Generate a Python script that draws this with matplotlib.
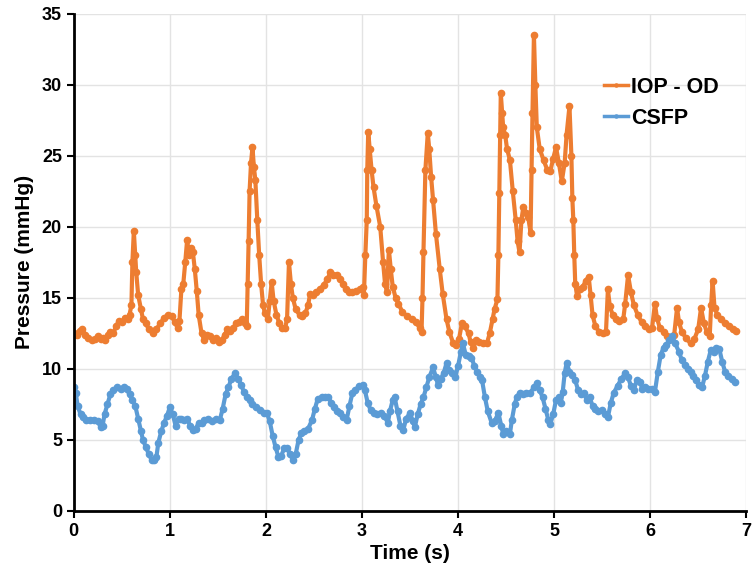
import numpy as np
import matplotlib
matplotlib.use('Agg')
from matplotlib import pyplot as plt

# IOP - OD (orange)
t_iop = [0.00, 0.03, 0.06, 0.09, 0.12, 0.15, 0.19, 0.22, 0.25, 0.28, 0.30, 0.33, 0.36, 0.38, 0.41, 0.44, 0.47, 0.50,
         0.53, 0.56, 0.58, 0.60, 0.61, 0.625, 0.64, 0.65, 0.67, 0.70, 0.72, 0.75, 0.78, 0.82, 0.86, 0.90, 0.94, 0.98,
         1.02, 1.05, 1.08, 1.10, 1.12, 1.14, 1.16, 1.18, 1.20, 1.22, 1.24, 1.26, 1.28, 1.30, 1.33, 1.36, 1.39, 1.42,
         1.45, 1.48, 1.51, 1.54, 1.57, 1.60, 1.63, 1.66, 1.69, 1.72, 1.75, 1.78, 1.80, 1.81, 1.82, 1.83, 1.845, 1.86,
         1.875, 1.89, 1.91, 1.93, 1.95, 1.97, 1.99, 2.02, 2.04, 2.06, 2.08, 2.11, 2.14, 2.17, 2.20, 2.22, 2.24, 2.26,
         2.28, 2.31, 2.35, 2.38, 2.41, 2.44, 2.46, 2.49, 2.52, 2.56, 2.60, 2.64, 2.67, 2.70, 2.74, 2.77, 2.80, 2.83,
         2.86, 2.90, 2.94, 2.98, 3.01, 3.02, 3.035, 3.05, 3.055, 3.065, 3.08, 3.10, 3.12, 3.15, 3.19, 3.22, 3.24, 3.26,
         3.28, 3.30, 3.32, 3.35, 3.38, 3.42, 3.47, 3.52, 3.56, 3.60, 3.62, 3.63, 3.64, 3.66, 3.685, 3.70, 3.72, 3.74,
         3.77, 3.81, 3.84, 3.88, 3.91, 3.95, 3.98, 4.01, 4.04, 4.07, 4.11, 4.13, 4.16, 4.19, 4.22, 4.26, 4.30, 4.33,
         4.36, 4.38, 4.41, 4.42, 4.43, 4.44, 4.445, 4.46, 4.47, 4.49, 4.51, 4.54, 4.57, 4.60, 4.62, 4.64, 4.66, 4.68,
         4.71, 4.73, 4.755, 4.765, 4.775, 4.79, 4.805, 4.82, 4.85, 4.89, 4.93, 4.96, 4.99, 5.02, 5.05, 5.08, 5.11, 5.13,
         5.16, 5.18, 5.19, 5.20, 5.21, 5.22, 5.24, 5.27, 5.30, 5.33, 5.36, 5.38, 5.40, 5.43, 5.47, 5.51, 5.54, 5.56,
         5.58, 5.61, 5.64, 5.68, 5.72, 5.74, 5.77, 5.80, 5.83, 5.87, 5.91, 5.95, 5.99, 6.02, 6.05, 6.07, 6.10, 6.14,
         6.18, 6.22, 6.25, 6.28, 6.30, 6.33, 6.37, 6.42, 6.46, 6.50, 6.53, 6.56, 6.59, 6.62, 6.635, 6.65, 6.67, 6.70,
         6.74, 6.78, 6.82, 6.86, 6.89]
iop = [12.5, 12.4, 12.7, 12.8, 12.4, 12.2, 12.0, 12.1, 12.3, 12.1, 12.2, 12.0, 12.4, 12.6, 12.5, 13.0, 13.4, 13.3,
       13.6, 13.5, 13.8, 14.5, 17.5, 19.7, 18.0, 16.8, 15.2, 14.2, 13.5, 13.2, 12.8, 12.5, 12.8, 13.2, 13.6, 13.8,
       13.7, 13.3, 12.9, 13.4, 15.6, 16.0, 17.5, 19.1, 18.0, 18.5, 18.2, 17.0, 15.5, 13.8, 12.5, 12.0, 12.4, 12.3,
       12.0, 12.2, 11.9, 12.0, 12.4, 12.8, 12.7, 12.9, 13.2, 13.3, 13.5, 13.2, 13.0, 16.0, 19.0, 22.5, 24.5, 25.6,
       24.2, 23.3, 20.5, 18.0, 16.0, 14.5, 13.9, 13.5, 14.8, 16.1, 14.8, 13.8, 13.2, 12.9, 12.9, 13.5, 17.5, 16.0,
       15.0, 14.2, 13.8, 13.7, 13.9, 14.5, 15.3, 15.2, 15.4, 15.6, 15.9, 16.3, 16.8, 16.6, 16.6, 16.3, 16.0, 15.6,
       15.4, 15.4, 15.5, 15.6, 15.8, 15.2, 18.0, 20.5, 24.0, 26.7, 25.5, 24.0, 22.8, 21.5, 20.0, 17.5, 16.0, 15.4,
       18.4, 17.0, 15.8, 15.0, 14.6, 14.0, 13.7, 13.5, 13.3, 12.9, 12.6, 15.0, 18.2, 24.0, 26.6, 25.5, 23.5, 21.9,
       19.5, 17.0, 15.3, 13.5, 12.6, 11.8, 11.7, 12.1, 13.2, 13.0, 12.5, 11.9, 11.5, 12.0, 11.9, 11.8, 11.8, 12.5,
       13.5, 14.2, 14.9, 18.0, 22.4, 26.5, 29.4, 28.0, 27.0, 26.5, 25.5, 24.7, 22.5, 20.5, 19.0, 18.2, 20.5, 21.4,
       21.0, 20.7, 19.6, 24.0, 28.0, 33.5, 30.0, 27.0, 25.5, 24.7, 24.0, 23.9, 24.8, 25.6, 24.5, 23.2, 24.5, 26.5,
       28.5, 25.0, 22.0, 20.5, 18.0, 16.0, 15.1, 15.6, 15.8, 16.2, 16.5, 15.2, 13.8, 13.0, 12.6, 12.5, 12.6, 15.6,
       14.4, 13.8, 13.5, 13.4, 13.5, 14.6, 16.6, 15.4, 14.5, 13.8, 13.3, 13.0, 12.8, 12.9, 14.6, 13.6, 12.9, 12.6,
       12.3, 12.1, 12.4, 14.3, 13.3, 12.6, 12.2, 11.8, 12.1, 12.8, 14.3, 13.2, 12.6, 12.3, 14.5, 16.2, 14.3, 13.8,
       13.5, 13.2, 13.0, 12.8, 12.7]

# CSFP (blue)
t_csf = [0.00, 0.02, 0.04, 0.07, 0.10, 0.13, 0.17, 0.21, 0.25, 0.28, 0.30, 0.32, 0.35, 0.38, 0.41, 0.45, 0.49, 0.52,
         0.55, 0.58, 0.61, 0.64, 0.67, 0.70, 0.72, 0.75, 0.78, 0.81, 0.84, 0.86, 0.88, 0.91, 0.94, 0.97, 1.00, 1.03,
         1.06, 1.09, 1.12, 1.15, 1.18, 1.21, 1.24, 1.27, 1.30, 1.33, 1.36, 1.40, 1.44, 1.48, 1.52, 1.55, 1.58, 1.61,
         1.64, 1.68, 1.71, 1.74, 1.77, 1.80, 1.83, 1.86, 1.90, 1.94, 1.98, 2.01, 2.04, 2.07, 2.10, 2.13, 2.16, 2.19,
         2.22, 2.25, 2.28, 2.31, 2.34, 2.37, 2.40, 2.44, 2.48, 2.51, 2.54, 2.58, 2.62, 2.65, 2.68, 2.71, 2.74, 2.77,
         2.80, 2.84, 2.87, 2.90, 2.93, 2.97, 3.01, 3.03, 3.06, 3.09, 3.12, 3.16, 3.20, 3.23, 3.27, 3.29, 3.32, 3.34,
         3.37, 3.40, 3.43, 3.46, 3.50, 3.53, 3.55, 3.58, 3.61, 3.64, 3.67, 3.70, 3.74, 3.77, 3.79, 3.82, 3.85, 3.88,
         3.91, 3.94, 3.97, 4.00, 4.03, 4.05, 4.08, 4.11, 4.14, 4.17, 4.20, 4.23, 4.25, 4.28, 4.31, 4.35, 4.38, 4.42,
         4.45, 4.47, 4.50, 4.54, 4.56, 4.59, 4.61, 4.64, 4.68, 4.71, 4.75, 4.79, 4.82, 4.85, 4.88, 4.91, 4.94, 4.96,
         4.99, 5.02, 5.05, 5.07, 5.09, 5.11, 5.13, 5.16, 5.19, 5.22, 5.25, 5.28, 5.31, 5.34, 5.37, 5.40, 5.43, 5.46,
         5.50, 5.53, 5.56, 5.59, 5.62, 5.66, 5.70, 5.74, 5.77, 5.80, 5.83, 5.86, 5.89, 5.92, 5.95, 5.98, 6.02, 6.05,
         6.08, 6.11, 6.14, 6.17, 6.20, 6.23, 6.26, 6.30, 6.33, 6.36, 6.39, 6.42, 6.45, 6.48, 6.51, 6.54, 6.57, 6.60,
         6.63, 6.66, 6.69, 6.72, 6.75, 6.78, 6.81, 6.85, 6.88]
csf = [8.7, 8.3, 7.4, 6.8, 6.6, 6.4, 6.4, 6.4, 6.3, 5.9, 6.0, 6.8, 7.5, 8.2, 8.5, 8.7, 8.6, 8.7,
       8.6, 8.2, 7.8, 7.4, 6.5, 5.6, 5.0, 4.5, 4.0, 3.6, 3.6, 3.8, 4.8, 5.6, 6.2, 6.7, 7.3, 6.8,
       6.0, 6.5, 6.5, 6.4, 6.5, 6.0, 5.7, 5.8, 6.2, 6.2, 6.4, 6.5, 6.3, 6.5, 6.4, 7.2, 8.2, 8.7,
       9.3, 9.7, 9.3, 8.9, 8.4, 8.0, 7.8, 7.5, 7.3, 7.1, 6.9, 6.9, 6.3, 5.3, 4.5, 3.8, 3.9, 4.4,
       4.4, 4.0, 3.6, 4.0, 5.0, 5.5, 5.6, 5.8, 6.4, 7.2, 7.9, 8.0, 8.0, 8.0, 7.6, 7.3, 7.0, 6.9,
       6.6, 6.4, 7.4, 8.3, 8.5, 8.8, 8.9, 8.5, 7.6, 7.1, 6.9, 6.8, 6.9, 6.7, 6.2, 7.0, 7.8, 8.0,
       7.0, 6.0, 5.7, 6.5, 6.9, 6.3, 5.9, 6.8, 7.5, 8.0, 8.7, 9.4, 10.1, 9.4, 8.9, 9.3, 9.7, 10.4,
       9.9, 9.7, 9.4, 10.2, 11.2, 11.8, 11.0, 10.9, 10.8, 10.2, 9.8, 9.4, 9.2, 8.0, 7.0, 6.2, 6.3, 6.9,
       6.0, 5.4, 5.6, 5.4, 6.4, 7.5, 8.0, 8.3, 8.2, 8.3, 8.3, 8.7, 9.0, 8.5, 8.0, 7.2, 6.4, 6.1,
       6.8, 7.8, 8.0, 7.6, 8.4, 9.7, 10.4, 9.8, 9.6, 9.2, 8.5, 8.2, 8.3, 7.8, 8.0, 7.4, 7.2, 7.0,
       7.1, 6.8, 6.6, 7.6, 8.3, 8.8, 9.3, 9.7, 9.4, 8.8, 8.5, 9.2, 9.1, 8.6, 8.7, 8.6, 8.6, 8.4,
       9.8, 11.0, 11.5, 11.7, 12.0, 12.3, 11.8, 11.2, 10.6, 10.3, 10.0, 9.8, 9.5, 9.2, 8.9, 8.7, 9.5, 10.5,
       11.3, 11.2, 11.5, 11.4, 10.5, 9.8, 9.5, 9.3, 9.1]

x_ticks = [0, 1, 2, 3, 4, 5, 6, 7]
y_ticks = [0, 5, 10, 15, 20, 25, 30, 35]

plt.rcParams['font.family'] = ['Liberation Sans', 'DejaVu Sans']
plt.rcParams['font.weight'] = 'bold'

fig = plt.figure(figsize=(7.53, 5.76), dpi=100)
ax = fig.add_axes([0.098, 0.113, 0.893, 0.863])

ax.plot(t_iop, iop, color='#ED7D31', lw=3, marker='o', ms=4.5, label='IOP - OD')
ax.plot(t_csf, csf, color='#5B9BD5', lw=3, marker='o', ms=4.5, label='CSFP')

ax.set_xlim(0, 7)
ax.set_ylim(0, 35)
ax.set_xticks(x_ticks)
ax.set_yticks(y_ticks)
ax.grid(True, color='#E3E3E3', lw=1)
ax.set_axisbelow(True)

for side in ['top', 'right']:
    ax.spines[side].set_visible(False)
for side in ['left', 'bottom']:
    ax.spines[side].set_linewidth(2)
ax.tick_params(direction='out', width=1.5, length=5, labelsize=13)
for lab in ax.get_xticklabels() + ax.get_yticklabels():
    lab.set_fontweight('bold')

ax.set_xlabel('Time (s)', fontsize=15, fontweight='bold', labelpad=3)
ax.set_ylabel('Pressure (mmHg)', fontsize=15, fontweight='bold', labelpad=6)

# legend up in the right corner, no frame
leg = ax.legend(loc='upper left', bbox_to_anchor=(0.76, 0.912), frameon=False,
                prop={'size': 15.5, 'weight': 'bold'}, handlelength=1.1, handletextpad=0.15,
                labelspacing=0.45, markerscale=0.5)
for h in leg.get_lines():
    h.set_linewidth(2.5)

fig.savefig('out.png', dpi=100)
